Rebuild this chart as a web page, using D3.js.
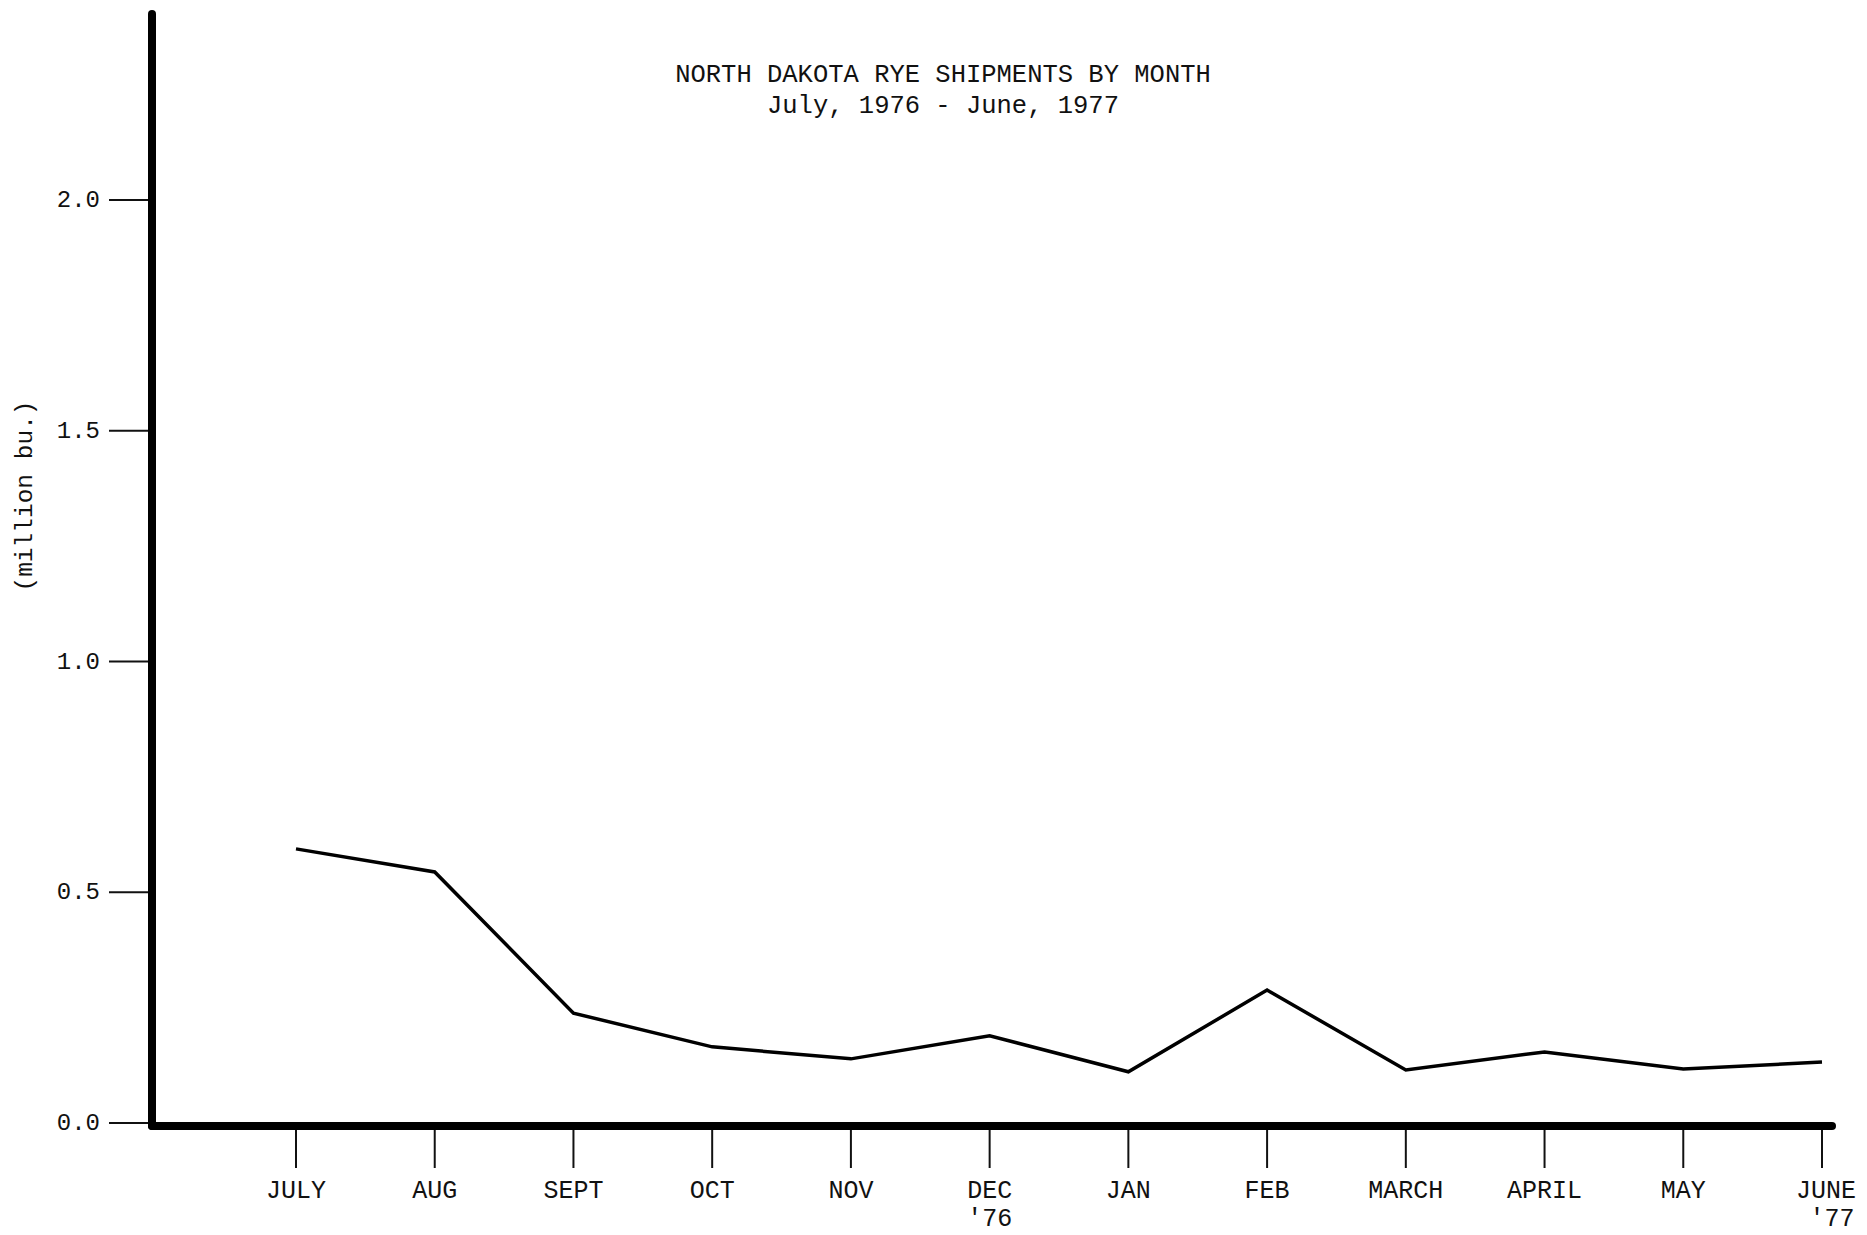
<!DOCTYPE html>
<html>
<head>
<meta charset="utf-8">
<script src="https://cdn.jsdelivr.net/npm/d3@7"></script>
<style>
  html, body { margin: 0; padding: 0; background: #fff; }
  svg { display: block; }
  text { font-family: "Liberation Mono", "DejaVu Sans Mono", monospace; fill: #111; }
</style>
</head>
<body>
<svg id="chart" width="1867" height="1235"></svg>
<script>
// ---- data ----
const months = ["JULY", "AUG", "SEPT", "OCT", "NOV", "DEC", "JAN", "FEB", "MARCH", "APRIL", "MAY", "JUNE"];
const yearMarks = ["", "", "", "", "", "'76", "", "", "", "", "", "'77"];
const shipments = [0.594, 0.544, 0.238, 0.165, 0.139, 0.189, 0.111, 0.288, 0.115, 0.154, 0.117, 0.132];
const yTicks = [0.0, 0.5, 1.0, 1.5, 2.0];
const titleLines = ["NORTH DAKOTA RYE SHIPMENTS BY MONTH", "July, 1976 - June, 1977"];
const yLabel = "(million bu.)";

// ---- layout ----
const svg = d3.select("#chart");
const axisX = 152, axisY = 1126;

const x = d3.scalePoint().domain(months).range([296, 1822]);
const y = d3.scaleLinear().domain([0, 2]).range([1123, 200]);

// title
svg.append("g").selectAll("text").data(titleLines).join("text")
  .attr("x", 943)
  .attr("y", (d, i) => 82 + i * 31)
  .attr("text-anchor", "middle")
  .attr("font-size", 25.5)
  .text(d => d);

// y axis title
svg.append("text")
  .attr("transform", "translate(32,496) rotate(-90)")
  .attr("text-anchor", "middle")
  .attr("font-size", 24.5)
  .text(yLabel);

// y ticks and labels
const yg = svg.append("g");
yg.selectAll("line").data(yTicks).join("line")
  .attr("x1", 109).attr("x2", axisX)
  .attr("y1", d => y(d)).attr("y2", d => y(d))
  .attr("stroke", "#111").attr("stroke-width", 2);
yg.selectAll("text").data(yTicks).join("text")
  .attr("x", 100)
  .attr("y", d => y(d) + 7)
  .attr("text-anchor", "end")
  .attr("font-size", 24)
  .text(d => d3.format(".1f")(d));

// x ticks and labels
const xg = svg.append("g");
xg.selectAll("line").data(months).join("line")
  .attr("x1", d => x(d)).attr("x2", d => x(d))
  .attr("y1", axisY).attr("y2", 1168)
  .attr("stroke", "#111").attr("stroke-width", 2);
xg.selectAll("text.m").data(months).join("text")
  .attr("class", "m")
  .attr("x", (d, i) => x(d) + (i === months.length - 1 ? 4 : 0))
  .attr("y", 1198)
  .attr("text-anchor", "middle")
  .attr("font-size", 25)
  .text(d => d);
xg.selectAll("text.yr")
  .data(months.map((m, i) => ({m, t: yearMarks[i], last: i === months.length - 1})).filter(d => d.t))
  .join("text")
  .attr("class", "yr")
  .attr("x", d => x(d.m) + (d.last ? 10 : 0))
  .attr("y", 1226)
  .attr("text-anchor", "middle")
  .attr("font-size", 25)
  .text(d => d.t);

// axes (thick)
svg.append("line")
  .attr("x1", axisX).attr("x2", axisX)
  .attr("y1", 14).attr("y2", axisY)
  .attr("stroke", "#000").attr("stroke-width", 8).attr("stroke-linecap", "round");
svg.append("line")
  .attr("x1", axisX).attr("x2", 1832)
  .attr("y1", axisY).attr("y2", axisY)
  .attr("stroke", "#000").attr("stroke-width", 8).attr("stroke-linecap", "round");

// data line
const line = d3.line()
  .x((d, i) => x(months[i]))
  .y(d => y(d));
svg.append("path")
  .datum(shipments)
  .attr("d", line)
  .attr("fill", "none")
  .attr("stroke", "#000")
  .attr("stroke-width", 3.5)
  .attr("stroke-linejoin", "miter");
</script>
</body>
</html>
